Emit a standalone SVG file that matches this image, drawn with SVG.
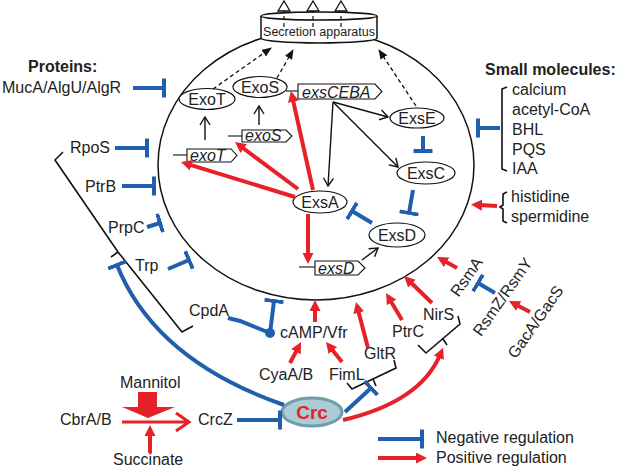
<svg xmlns="http://www.w3.org/2000/svg" width="622" height="472" viewBox="0 0 622 472">
<style>
.t{font-family:"Liberation Sans",Arial,sans-serif;font-size:16px;fill:#222}
.tb{font-weight:bold}
.it{font-style:italic}
.b{stroke:#1f5fae;stroke-width:4;fill:none;marker-end:url(#tb)}
.bl{stroke:#1f5fae;stroke-width:4;fill:none}
.r{stroke:#e62129;stroke-width:4;fill:none;marker-end:url(#ar)}
.k{stroke:#111;stroke-width:1.4;fill:none;marker-end:url(#oa)}
.d{stroke:#111;stroke-width:1.3;stroke-dasharray:4 3;fill:none;marker-end:url(#da)}
.br{stroke:#111;stroke-width:1.6;fill:none}
.nd{fill:#fff;stroke:#111;stroke-width:1.2}
.gene{fill:#fff;stroke:#111;stroke-width:1.1}
.pl{stroke:#111;stroke-width:1.1}
</style>
<defs>
<marker id="ar" markerUnits="userSpaceOnUse" viewBox="0 0 11 11" markerWidth="11" markerHeight="11" refX="3" refY="5.5" orient="auto"><path d="M0,0 L11,5.5 L0,11 z" fill="#e62129"/></marker>
<marker id="tb" markerUnits="userSpaceOnUse" viewBox="-2 -10 4 20" markerWidth="4" markerHeight="20" refX="0" refY="0" orient="auto"><path d="M0,-9.5 V9.5" stroke="#1f5fae" stroke-width="4"/></marker>
<marker id="oa" markerUnits="userSpaceOnUse" viewBox="0 0 10 12" markerWidth="10" markerHeight="12" refX="9" refY="6" orient="auto"><path d="M1,1 L9,6 L1,11" fill="none" stroke="#111" stroke-width="1.4"/></marker>
<marker id="da" markerUnits="userSpaceOnUse" viewBox="0 0 10 8" markerWidth="10" markerHeight="8" refX="9" refY="4" orient="auto"><path d="M0,0 L10,4 L0,8 z" fill="#111"/></marker>
</defs>
<rect width="622" height="472" fill="#fff"/>

<!-- cell -->
<ellipse id="cell" cx="316" cy="165" rx="158" ry="135" fill="none" stroke="#111" stroke-width="1.5"/>

<!-- secretion apparatus -->
<g id="secretion">
<path d="M261,16 V38 A58,5 0 0 0 377,38 V16" fill="#fff" stroke="#111" stroke-width="1.5"/>
<ellipse cx="319" cy="16" rx="58" ry="4" fill="#fff" stroke="#111" stroke-width="1.5"/>
<g stroke="#111" stroke-width="1.2" stroke-dasharray="4 3"><line x1="284" y1="27" x2="284" y2="11"/><line x1="313" y1="27" x2="313" y2="11"/><line x1="341" y1="27" x2="341" y2="11"/></g>
<g fill="#fff" stroke="#111" stroke-width="1.3"><polygon points="278,11 284,1 290,11"/><polygon points="307,11 313,1 319,11"/><polygon points="335,11 341,1 347,11"/></g>
<text class="t" x="319" y="36" text-anchor="middle" style="font-size:12.5px">Secretion apparatus</text>
</g>

<!-- nodes inside -->
<g id="ExoT"><ellipse class="nd" cx="207" cy="99" rx="28" ry="10.5"/><text class="t" x="207" y="105" text-anchor="middle">ExoT</text></g>
<g id="ExoS"><ellipse class="nd" cx="260" cy="87" rx="27" ry="10.5"/><text class="t" x="260" y="93" text-anchor="middle">ExoS</text></g>
<g id="ExsE"><ellipse class="nd" cx="417" cy="118" rx="27" ry="10"/><text class="t" x="417" y="124" text-anchor="middle">ExsE</text></g>
<g id="ExsC"><ellipse class="nd" cx="426" cy="173" rx="29" ry="11"/><text class="t" x="426" y="179" text-anchor="middle">ExsC</text></g>
<g id="ExsA"><ellipse class="nd" cx="320" cy="202" rx="27" ry="11"/><text class="t" x="320" y="208" text-anchor="middle">ExsA</text></g>
<g id="ExsD"><ellipse class="nd" cx="397" cy="235" rx="28" ry="12"/><text class="t" x="397" y="241" text-anchor="middle">ExsD</text></g>

<g id="exoT"><line class="pl" x1="173" y1="155" x2="187" y2="155"/><polygon class="gene" points="187,149 231,149 237,155.5 231,162 187,162"/><text class="t it" x="190" y="161">exoT</text></g>
<g id="exoS"><line class="pl" x1="228" y1="136" x2="242" y2="136"/><polygon class="gene" points="242,130 286,130 292,136 286,142 242,142"/><text class="t it" x="245" y="141">exoS</text></g>
<g id="exsCEBA"><line class="pl" x1="286" y1="91" x2="298" y2="91"/><polygon class="gene" points="298,84 375,84 382,91.5 375,99 298,99"/><text class="t it" x="302" y="98">exsCEBA</text></g>
<g id="exsD"><line class="pl" x1="299" y1="267" x2="315" y2="267"/><polygon class="gene" points="315,261 358,261 365,268 358,275 315,275"/><text class="t it" x="318" y="274">exsD</text></g>

<!-- outside nodes -->
<g id="proteins"><text class="t tb" x="28" y="72">Proteins:</text></g>
<g id="MucA"><text class="t" x="2" y="93">MucA/AlgU/AlgR</text></g>
<g id="RpoS"><text class="t" x="70" y="153">RpoS</text></g>
<g id="PtrB"><text class="t" x="85" y="192">PtrB</text></g>
<g id="PrpC"><text class="t" x="108" y="233">PrpC</text></g>
<g id="Trp"><text class="t" x="135" y="271">Trp</text></g>
<g id="CpdA"><text class="t" x="189" y="316">CpdA</text></g>
<g id="cAMP"><text class="t" x="280" y="338">cAMP/Vfr</text></g>
<g id="CyaA"><text class="t" x="259" y="380">CyaA/B</text></g>
<g id="FimL"><text class="t" x="329" y="380">FimL</text></g>
<g id="GltR"><text class="t" x="364" y="359">GltR</text></g>
<g id="PtrC"><text class="t" x="392" y="337">PtrC</text></g>
<g id="NirS"><text class="t" x="423" y="320">NirS</text></g>
<g id="RsmA"><text class="t" text-anchor="middle" transform="translate(471,280) rotate(-55)">RsmA</text></g>
<g id="RsmZ"><text class="t" text-anchor="middle" transform="translate(507,300) rotate(-55)">RsmZ/RsmY</text></g>
<g id="GacA"><text class="t" text-anchor="middle" transform="translate(540,325) rotate(-55)">GacA/GacS</text></g>
<g id="smallmol">
<text class="t tb" x="485" y="75">Small molecules:</text>
<text class="t" x="512" y="95">calcium</text>
<text class="t" x="512" y="115">acetyl-CoA</text>
<text class="t" x="512" y="135">BHL</text>
<text class="t" x="512" y="155">PQS</text>
<text class="t" x="512" y="174">IAA</text>
<path class="br" d="M507,87 L502,89 V169 L507,171"/>
</g>
<g id="histidine">
<text class="t" x="511" y="202">histidine</text>
<text class="t" x="511" y="222">spermidine</text>
<path class="br" d="M507,192 L503,194 V205 L500,207 L503,209 V221 L507,223"/>
</g>
<g id="Mannitol"><text class="t" x="120" y="388">Mannitol</text></g>
<g id="CbrA"><text class="t" x="60" y="425">CbrA/B</text></g>
<g id="CrcZ"><text class="t" x="198" y="425">CrcZ</text></g>
<g id="Succinate"><text class="t" x="113" y="465">Succinate</text></g>
<g id="Crc"><ellipse cx="312" cy="412" rx="30" ry="14" fill="#a9ccd5" stroke="#6f9ca8" stroke-width="3"/><text class="t tb" x="312" y="419" text-anchor="middle" style="font-size:19px;fill:#e62129">Crc</text></g>
<g id="legend">
<line class="b" x1="378" y1="439" x2="422" y2="439"/>
<line class="r" x1="378" y1="458" x2="419" y2="458"/>
<text class="t" x="436" y="443">Negative regulation</text>
<text class="t" x="436" y="463">Positive regulation</text>
</g>

<g id="connectors">
<!-- brackets -->
<path class="br" d="M63,152 L55,160 L118,252 L182,332 L193,326 M118,252 L111,257"/>
<path class="br" d="M347,383 L352,389 L396,368 L394,360 M373,379 L376,386"/>
<path class="br" d="M418,345 L426,353 L460,324 L458,316 M443,339 L447,345"/>

<!-- black open arrows -->
<line class="k" x1="205" y1="140" x2="205" y2="117"/>
<line class="k" x1="259" y1="125" x2="259" y2="106"/>
<line class="k" x1="333" y1="102" x2="388" y2="117"/>
<line class="k" x1="333" y1="102" x2="398" y2="167"/>
<line class="k" x1="333" y1="102" x2="328" y2="186"/>
<line class="k" x1="362" y1="260" x2="378" y2="248"/>

<!-- dashed -->
<line class="d" x1="213" y1="89" x2="271" y2="48"/>
<line class="d" x1="277" y1="78" x2="293" y2="50"/>
<line class="d" x1="416" y1="106" x2="379" y2="50"/>

<!-- red -->
<line class="r" x1="295" y1="197" x2="188.6" y2="164.3"/>
<line class="r" x1="298" y1="189" x2="241.4" y2="146.8"/>
<line class="r" x1="313" y1="190" x2="292.7" y2="98.8"/>
<line class="r" x1="308" y1="214" x2="308" y2="256"/>
<line class="r" x1="315" y1="322" x2="315" y2="308"/>
<line class="r" x1="290" y1="363" x2="297.3" y2="349.1"/>
<line class="r" x1="342" y1="362" x2="331" y2="348.2"/>
<line class="r" x1="368" y1="348" x2="358" y2="309.8"/>
<line class="r" x1="402" y1="320" x2="390.1" y2="299.9"/>
<line class="r" x1="432" y1="303" x2="409.8" y2="281.5"/>
<line class="r" x1="457" y1="268" x2="444" y2="260.8"/>
<line class="r" x1="497" y1="206" x2="479" y2="205"/>
<line class="r" x1="530" y1="312" x2="516.1" y2="304.7"/>
<line class="r" x1="150" y1="453" x2="150" y2="433"/>
<path class="r" d="M343,420 Q420,402 440,355"/>
<polygon points="138,392 157,392 157,407 175,407 148,418 122,407 138,407" fill="#e62129"/>
<path d="M122,422 H188 M176,413 L189,422 L176,431" stroke="#e62129" stroke-width="3" fill="none"/>

<!-- blue -->
<line class="b" x1="133" y1="88" x2="164" y2="88"/>
<line class="b" x1="115" y1="148" x2="147" y2="148"/>
<line class="b" x1="122" y1="186" x2="154" y2="186"/>
<line class="b" x1="147" y1="227" x2="160" y2="223"/>
<line class="b" x1="168" y1="269" x2="189" y2="260"/>
<line class="b" x1="500" y1="128" x2="478" y2="128"/>
<line class="b" x1="423" y1="136" x2="423" y2="151"/>
<line class="b" x1="413" y1="190" x2="409" y2="213"/>
<line class="b" x1="372" y1="223" x2="352" y2="211"/>
<path class="bl" d="M228,318 L240,321 L270,333"/>
<circle cx="270" cy="333" r="5" fill="#1f5fae"/>
<line class="b" x1="270" y1="333" x2="274" y2="301"/>
<line class="b" x1="237" y1="420" x2="280" y2="420"/>
<line class="b" x1="345" y1="412" x2="371" y2="388"/>
<path class="b" d="M284,405 Q155,360 117,265"/>
<line class="b" x1="495" y1="293" x2="478" y2="283"/>
</g>
</svg>
